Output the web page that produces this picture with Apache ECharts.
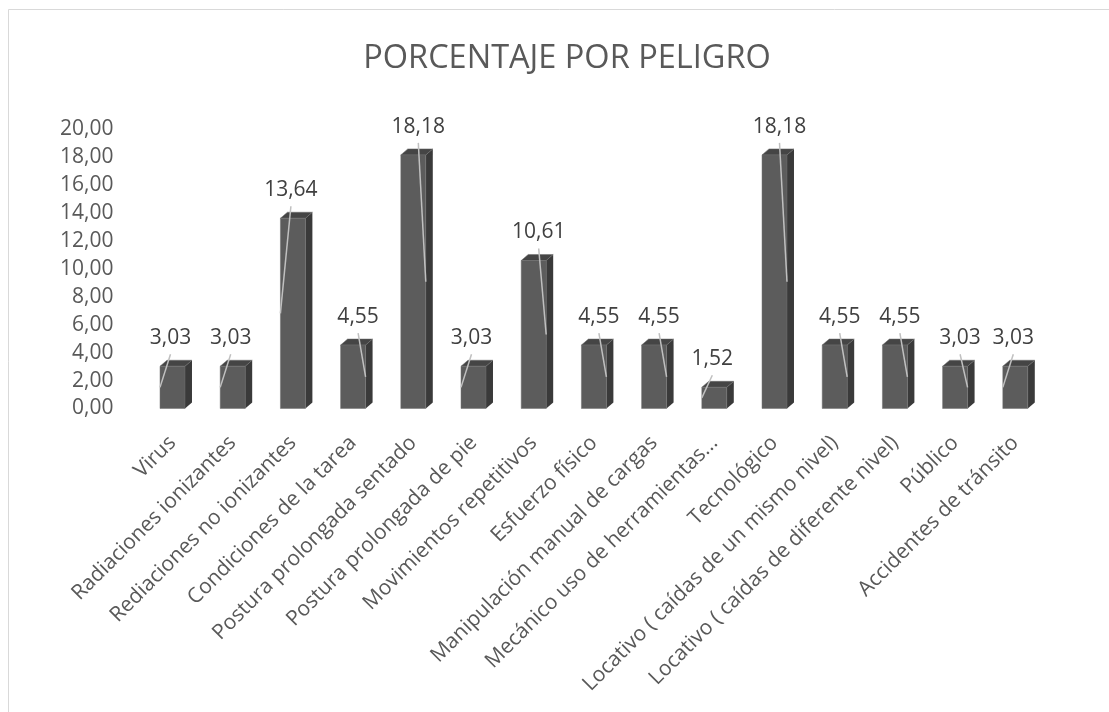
<!DOCTYPE html>
<html>
<head>
<meta charset="utf-8">
<title>Porcentaje por peligro</title>
<script src="https://cdn.jsdelivr.net/npm/echarts@6/dist/echarts.min.js"></script>
<style>
  html, body { margin: 0; padding: 0; background: #fff; }
  #main { width: 1109px; height: 712px; }
</style>
</head>
<body>
<div id="main"></div>
<script>
// categorias (peligros)
const categorias = [
  'Virus',
  'Radiaciones ionizantes',
  'Rediaciones no ionizantes',
  'Condiciones de la tarea',
  'Postura prolongada sentado',
  'Postura prolongada de pie',
  'Movimientos repetitivos',
  'Esfuerzo físico',
  'Manipulación manual de cargas',
  'Mecánico uso de herramientas...',
  'Tecnológico',
  'Locativo ( caídas de un mismo nivel)',
  'Locativo ( caídas de diferente nivel)',
  'Público',
  'Accidentes de tránsito'
]
// porcentaje por peligro
const porcentajes = [3.03, 3.03, 13.64, 4.55, 18.18, 3.03, 10.61, 4.55, 4.55, 1.52, 18.18, 4.55, 4.55, 3.03, 3.03]
// lado de la barra donde termina la linea guia de la etiqueta (0 izq, 1 der)
const ladoGuia = [0, 0, 0, 1, 1, 0, 1, 1, 1, 0, 1, 1, 1, 1, 0]
const ejeY = { min: 0, max: 20, intervalo: 2 }

const fmt = (v) => v.toFixed(2).replace('.', ',')
const FONT = '"Open Sans", "Noto Sans", sans-serif'

let chart = echarts.init(document.getElementById('main'))

function renderBar (params, api) {
  let i = api.value(0)
  let v = api.value(1)
  let top = api.coord([i, v])
  let base = api.coord([i, 0])
  let band = api.size([1, 0])[0]
  let w = band * 0.415
  let dx = 7
  let dy = 6
  let x0 = top[0] - w / 2
  let x1 = top[0] + w / 2
  let yt = top[1]
  let yb = base[1]
  let side = ladoGuia[params.dataIndex]
  let lx = top[0] + (side ? 5 : -2)
  let ly = yt - 28
  let ex = side ? x1 : x0
  let ey = (yt + yb) / 2
  return {
    type: 'group',
    children: [
      { type: 'polygon', shape: { points: [[x1, yt], [x1 + dx, yt - dy], [x1 + dx, yb - dy], [x1, yb]] }, style: { fill: '#3a3a3a' } },
      { type: 'polygon', shape: { points: [[x0, yt], [x0 + dx, yt - dy], [x1 + dx, yt - dy], [x1, yt]] }, style: { fill: '#454545', stroke: '#6a6a6a', lineWidth: 0.5 } },
      { type: 'rect', shape: { x: x0, y: yt, width: w, height: yb - yt }, style: { fill: '#5c5c5c', stroke: '#707070', lineWidth: 0.5 } },
      { type: 'line', shape: { x1: lx, y1: ly + 16, x2: ex, y2: ey }, style: { stroke: '#c0c0c0', lineWidth: 1.5 } },
      { type: 'text', style: { text: fmt(v), x: lx, y: ly, align: 'center', verticalAlign: 'middle', fill: '#404040', fontSize: 21, fontFamily: FONT } }
    ]
  }
}

chart.setOption({
  backgroundColor: '#fff',
  animation: false,
  graphic: [{
    type: 'rect',
    shape: { x: 8.5, y: 9.5, width: 1200, height: 800 },
    style: { fill: 'none', stroke: '#d9d9d9', lineWidth: 1 }
  }],
  title: {
    text: 'PORCENTAJE POR PELIGRO',
    left: 562,
    top: 37,
    textAlign: 'center',
    textStyle: { fontFamily: FONT, fontSize: 32.5, fontWeight: 'normal', color: '#595959' }
  },
  grid: { left: 142.4, right: 1109 - 1045.4, top: 129.5, bottom: 712 - 408.5 },
  xAxis: {
    type: 'category',
    data: categorias,
    axisLine: { show: false },
    axisTick: { show: false },
    axisLabel: { interval: 0, rotate: 45, margin: 31, fontSize: 21, fontFamily: FONT, color: '#595959' }
  },
  yAxis: {
    type: 'value',
    min: ejeY.min,
    max: ejeY.max,
    interval: ejeY.intervalo,
    axisLine: { show: false },
    axisTick: { show: false },
    splitLine: { show: false },
    axisLabel: { margin: 29, padding: [7, 0, 0, 0], fontSize: 21, fontFamily: FONT, color: '#595959', formatter: fmt }
  },
  series: [{
    type: 'custom',
    renderItem: renderBar,
    encode: { x: 0, y: 1 },
    data: porcentajes.map((v, i) => [i, v])
  }]
})
</script>
</body>
</html>
